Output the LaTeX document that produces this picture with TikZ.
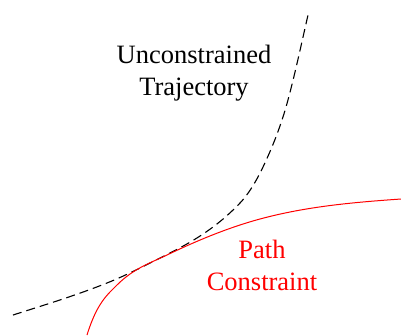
\documentclass[tikz,border=0pt]{standalone}
\usepackage{fontspec}
\setmainfont{Liberation Serif}
\begin{document}
\begin{tikzpicture}
% Trajectory sketch, pixel units
\def\unitsz{1pt}
\providecommand{\trajLineColor}{black}
\providecommand{\pathLineColor}{red}
\providecommand{\trajLineWidth}{1.1pt}
\providecommand{\pathLineWidth}{1pt}
\begin{scope}[x=\unitsz, y=-\unitsz, line cap=butt, line join=round]
  % Frame
  \useasboundingbox (0,0) rectangle (401,335);
  % Unconstrained trajectory (dashed)
  \begin{scope}[draw=\trajLineColor, line width=\trajLineWidth, dash pattern=on 9pt off 5pt]
    \draw (13,315) .. controls (44.3,305) and (75.7,295.5) .. (107,283)
                   .. controls (127,275) and (147,264.5) .. (167,254.5)
                   .. controls (191.3,242.3) and (215.7,228.5) .. (240,203)
                   .. controls (247.7,195) and (255.3,183.1) .. (263,167)
                   .. controls (269.3,153.7) and (275.7,139) .. (282,120)
                   .. controls (290.7,94) and (299.3,53.1) .. (308,15);
  \end{scope}
  % Path constraint
  \begin{scope}[draw=\pathLineColor, line width=\pathLineWidth]
    \draw (87,335) .. controls (97,303) and (107,295) .. (117,285)
                   .. controls (133.7,268.3) and (150.3,263) .. (167,255)
                   .. controls (198,240.1) and (229,227.4) .. (260,219)
                   .. controls (307,206.3) and (354,202.3) .. (401,199);
  \end{scope}
  % Labels
  \begin{scope}[font=\fontsize{26.5}{32}\selectfont, align=center, inner sep=0pt]
    \node[text=\trajLineColor] (unc) at (194,73) {Unconstrained\\Trajectory};
    \node[text=\pathLineColor] (pc) at (262,265) {Path\\Constraint};
  \end{scope}
\end{scope}
\end{tikzpicture}
\end{document}
